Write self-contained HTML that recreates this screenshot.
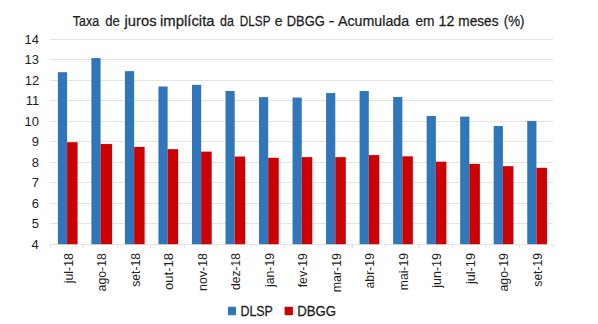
<!DOCTYPE html>
<html><head><meta charset="utf-8"><style>
html,body{margin:0;padding:0;background:#fff;}
svg{display:block;}
text{font-family:"Liberation Sans",sans-serif;fill:#1e1e1e;}
</style></head><body>
<svg width="598" height="324" viewBox="0 0 598 324">
<rect width="598" height="324" fill="#fff"/>
<rect x="50.30" y="223" width="502.90" height="1" fill="#e6e4de"/>
<rect x="50.30" y="203" width="502.90" height="1" fill="#e6e4de"/>
<rect x="50.30" y="182" width="502.90" height="1" fill="#e6e4de"/>
<rect x="50.30" y="162" width="502.90" height="1" fill="#e6e4de"/>
<rect x="50.30" y="141" width="502.90" height="1" fill="#e6e4de"/>
<rect x="50.30" y="121" width="502.90" height="1" fill="#e6e4de"/>
<rect x="50.30" y="100" width="502.90" height="1" fill="#e6e4de"/>
<rect x="50.30" y="80" width="502.90" height="1" fill="#e6e4de"/>
<rect x="50.30" y="59" width="502.90" height="1" fill="#e6e4de"/>
<rect x="50.30" y="39" width="502.90" height="1" fill="#e6e4de"/>
<rect x="50.30" y="244" width="502.90" height="1" fill="#e3e3e3"/>
<rect x="50" y="244" width="1" height="4" fill="#e3e3e3"/>
<rect x="83" y="244" width="1" height="4" fill="#e3e3e3"/>
<rect x="117" y="244" width="1" height="4" fill="#e3e3e3"/>
<rect x="150" y="244" width="1" height="4" fill="#e3e3e3"/>
<rect x="184" y="244" width="1" height="4" fill="#e3e3e3"/>
<rect x="217" y="244" width="1" height="4" fill="#e3e3e3"/>
<rect x="251" y="244" width="1" height="4" fill="#e3e3e3"/>
<rect x="284" y="244" width="1" height="4" fill="#e3e3e3"/>
<rect x="318" y="244" width="1" height="4" fill="#e3e3e3"/>
<rect x="352" y="244" width="1" height="4" fill="#e3e3e3"/>
<rect x="385" y="244" width="1" height="4" fill="#e3e3e3"/>
<rect x="419" y="244" width="1" height="4" fill="#e3e3e3"/>
<rect x="452" y="244" width="1" height="4" fill="#e3e3e3"/>
<rect x="486" y="244" width="1" height="4" fill="#e3e3e3"/>
<rect x="519" y="244" width="1" height="4" fill="#e3e3e3"/>
<rect x="553" y="244" width="1" height="4" fill="#e3e3e3"/>
<rect x="57.86" y="72.17" width="9.20" height="172.03" fill="#2f77ba"/>
<rect x="67.06" y="142.21" width="10.50" height="101.99" fill="#cc0000"/>
<rect x="91.39" y="58.04" width="9.20" height="186.16" fill="#2f77ba"/>
<rect x="100.59" y="144.05" width="11.50" height="100.15" fill="#cc0000"/>
<rect x="124.92" y="71.14" width="9.20" height="173.06" fill="#2f77ba"/>
<rect x="134.12" y="146.92" width="10.50" height="97.28" fill="#cc0000"/>
<rect x="158.44" y="86.50" width="9.20" height="157.70" fill="#2f77ba"/>
<rect x="167.64" y="149.17" width="10.50" height="95.03" fill="#cc0000"/>
<rect x="191.97" y="84.87" width="9.20" height="159.33" fill="#2f77ba"/>
<rect x="201.17" y="151.63" width="10.50" height="92.57" fill="#cc0000"/>
<rect x="225.50" y="91.01" width="9.20" height="153.19" fill="#2f77ba"/>
<rect x="234.70" y="156.55" width="10.50" height="87.65" fill="#cc0000"/>
<rect x="259.02" y="97.15" width="9.20" height="147.05" fill="#2f77ba"/>
<rect x="268.22" y="157.77" width="10.50" height="86.43" fill="#cc0000"/>
<rect x="292.55" y="97.56" width="9.20" height="146.64" fill="#2f77ba"/>
<rect x="301.75" y="157.16" width="10.50" height="87.04" fill="#cc0000"/>
<rect x="326.08" y="93.06" width="9.20" height="151.14" fill="#2f77ba"/>
<rect x="335.28" y="157.16" width="10.50" height="87.04" fill="#cc0000"/>
<rect x="359.60" y="91.01" width="9.20" height="153.19" fill="#2f77ba"/>
<rect x="368.80" y="155.11" width="10.50" height="89.09" fill="#cc0000"/>
<rect x="393.13" y="96.95" width="9.20" height="147.25" fill="#2f77ba"/>
<rect x="402.33" y="156.34" width="10.50" height="87.86" fill="#cc0000"/>
<rect x="426.66" y="116.00" width="9.20" height="128.20" fill="#2f77ba"/>
<rect x="435.86" y="161.67" width="10.50" height="82.53" fill="#cc0000"/>
<rect x="460.18" y="116.61" width="9.20" height="127.59" fill="#2f77ba"/>
<rect x="469.38" y="163.92" width="10.50" height="80.28" fill="#cc0000"/>
<rect x="493.71" y="126.03" width="9.20" height="118.17" fill="#2f77ba"/>
<rect x="502.91" y="166.17" width="10.50" height="78.03" fill="#cc0000"/>
<rect x="527.24" y="120.91" width="9.20" height="123.29" fill="#2f77ba"/>
<rect x="536.44" y="167.81" width="10.50" height="76.39" fill="#cc0000"/>
<text x="31.61" y="248.69" font-size="13.0">4</text>
<text x="31.87" y="228.20" font-size="13.0">5</text>
<text x="31.87" y="207.79" font-size="13.0">6</text>
<text x="31.87" y="187.25" font-size="13.0">7</text>
<text x="31.87" y="166.83" font-size="13.0">8</text>
<text x="31.87" y="146.35" font-size="13.0">9</text>
<text x="24.59" y="125.87" font-size="13.0">10</text>
<text x="25.63" y="105.33" font-size="13.0">11</text>
<text x="24.72" y="84.91" font-size="13.0">12</text>
<text x="24.59" y="64.43" font-size="13.0">13</text>
<text x="24.46" y="43.89" font-size="13.0">14</text>
<text transform="translate(72.56,283.35) rotate(-90) scale(1.0331,1)" font-size="12.0">jul-18</text>
<text transform="translate(106.09,291.39) rotate(-90) scale(1.0259,1)" font-size="12.0">ago-18</text>
<text transform="translate(139.62,286.76) rotate(-90) scale(1.0123,1)" font-size="12.0">set-18</text>
<text transform="translate(173.14,289.92) rotate(-90) scale(1.0848,1)" font-size="12.0">out-18</text>
<text transform="translate(206.67,290.97) rotate(-90) scale(1.0346,1)" font-size="12.0">nov-18</text>
<text transform="translate(240.20,289.88) rotate(-90) scale(1.0045,1)" font-size="12.0">dez-18</text>
<text transform="translate(273.72,286.96) rotate(-90) scale(1.0182,1)" font-size="12.0">jan-19</text>
<text transform="translate(307.25,287.32) rotate(-90) scale(1.0294,1)" font-size="12.0">fev-19</text>
<text transform="translate(340.78,292.27) rotate(-90) scale(1.0328,1)" font-size="12.0">mar-19</text>
<text transform="translate(374.30,288.49) rotate(-90) scale(1.0238,1)" font-size="12.0">abr-19</text>
<text transform="translate(407.83,290.25) rotate(-90) scale(1.0147,1)" font-size="12.0">mai-19</text>
<text transform="translate(441.36,287.75) rotate(-90) scale(1.0424,1)" font-size="12.0">jun-19</text>
<text transform="translate(474.88,284.05) rotate(-90) scale(1.0572,1)" font-size="12.0">jul-19</text>
<text transform="translate(508.41,291.60) rotate(-90) scale(1.0314,1)" font-size="12.0">ago-19</text>
<text transform="translate(541.94,286.66) rotate(-90) scale(1.0093,1)" font-size="12.0">set-19</text>
<text transform="translate(72.65,25.7) scale(0.8357,1)" font-size="15.0" stroke="#1e1e1e" stroke-width="0.25">Taxa</text>
<text transform="translate(105.18,25.7) scale(0.8738,1)" font-size="15.0" stroke="#1e1e1e" stroke-width="0.25">de</text>
<text transform="translate(124.59,25.7) scale(0.9829,1)" font-size="15.0" stroke="#1e1e1e" stroke-width="0.25">juros</text>
<text transform="translate(159.96,25.7) scale(0.9944,1)" font-size="15.0" stroke="#1e1e1e" stroke-width="0.25">implícita</text>
<text transform="translate(220.10,25.7) scale(0.8349,1)" font-size="15.0" stroke="#1e1e1e" stroke-width="0.25">da</text>
<text transform="translate(239.86,25.7) scale(0.7823,1)" font-size="15.0" stroke="#1e1e1e" stroke-width="0.25">DLSP</text>
<text transform="translate(274.64,25.7) scale(0.9362,1)" font-size="15.0" stroke="#1e1e1e" stroke-width="0.25">e</text>
<text transform="translate(286.77,25.7) scale(0.8602,1)" font-size="15.0" stroke="#1e1e1e" stroke-width="0.25">DBGG</text>
<text transform="translate(328.48,25.7) scale(1.2000,1)" font-size="15.0" stroke="#1e1e1e" stroke-width="0.25">-</text>
<text transform="translate(338.00,25.7) scale(0.9493,1)" font-size="15.0" stroke="#1e1e1e" stroke-width="0.25">Acumulada</text>
<text transform="translate(415.45,25.7) scale(0.9167,1)" font-size="15.0" stroke="#1e1e1e" stroke-width="0.25">em</text>
<text transform="translate(438.56,25.7) scale(0.9524,1)" font-size="15.0" stroke="#1e1e1e" stroke-width="0.25">12</text>
<text transform="translate(458.34,25.7) scale(0.9108,1)" font-size="15.0" stroke="#1e1e1e" stroke-width="0.25">meses</text>
<text transform="translate(503.70,25.7) scale(0.8904,1)" font-size="15.0" stroke="#1e1e1e" stroke-width="0.25">(%)</text>
<rect x="228" y="306.8" width="8" height="8.4" fill="#2f77ba"/>
<rect x="284.6" y="306.8" width="8.3" height="8.4" fill="#cc0000"/>
<text transform="translate(240.40,315.9) scale(0.9029,1)" font-size="13.8" stroke="#1e1e1e" stroke-width="0.25">DLSP</text>
<text transform="translate(297.14,315.9) scale(0.9584,1)" font-size="13.8" stroke="#1e1e1e" stroke-width="0.25">DBGG</text>
</svg>
</body></html>
